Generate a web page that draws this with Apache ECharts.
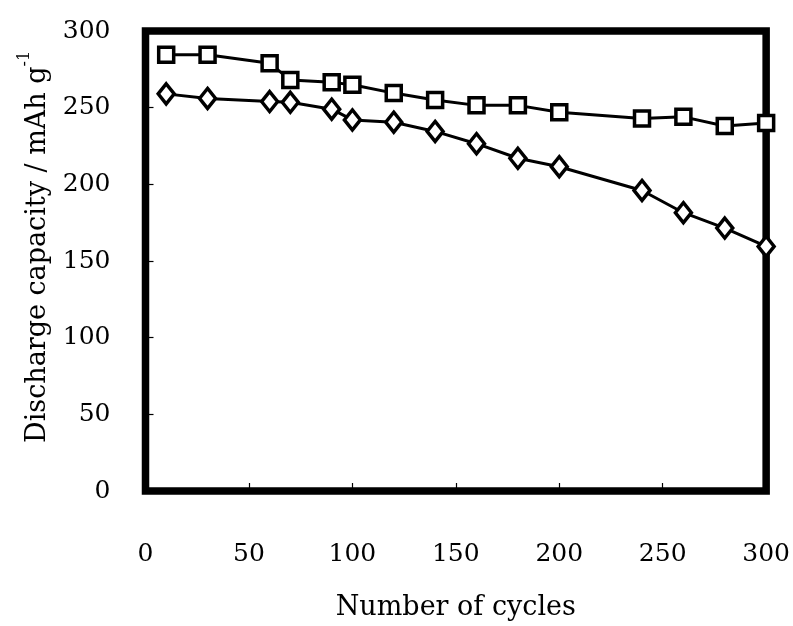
<!DOCTYPE html>
<html>
<head>
<meta charset="utf-8">
<script src="https://cdn.jsdelivr.net/npm/echarts@6/dist/echarts.min.js"></script>
<style>html,body{margin:0;padding:0;background:#fff}#c{width:793px;height:626px}</style>
</head>
<body>
<div id="c"></div>
<script>
var cycles = [10, 30, 60, 70, 90, 100, 120, 140, 160, 180, 200, 240, 260, 280, 300];
var squareCapacity = [284.5, 284.5, 279, 268, 266.5, 265, 259.5, 255, 251.5, 251.5, 247, 243, 244, 238, 240];
var diamondCapacity = [259, 256, 254, 253.5, 249, 242, 240.5, 234.5, 226.5, 217, 211.5, 196, 181.5, 171.5, 159.5];
var xTicks = [0, 50, 100, 150, 200, 250, 300];
var yTicks = [0, 50, 100, 150, 200, 250, 300];
var xTitle = 'Number of cycles';
var yTitle = 'Discharge capacity / mAh g';
var ySup = '-1';

function pairs(xs, ys) { return xs.map(function (x, i) { return [x, ys[i]]; }); }

var font = '"DejaVu Serif", "Liberation Serif", serif';
var chart = echarts.init(document.getElementById('c'), null, {renderer: 'canvas'});
chart.setOption({
  animation: false,
  backgroundColor: '#fff',
  grid: {left: 145.5, right: 24, top: 31, bottom: 131, show: true, borderColor: '#000', borderWidth: 7.5, backgroundColor: 'transparent'},
  xAxis: {
    type: 'value', min: xTicks[0], max: xTicks[xTicks.length - 1], interval: 50,
    axisLine: {show: false},
    axisTick: {show: true, inside: true, length: 8, lineStyle: {color: '#000', width: 1.2}},
    splitLine: {show: false},
    axisLabel: {color: '#000', fontFamily: font, fontSize: 25, margin: 51},
    name: xTitle, nameLocation: 'middle', nameGap: 103,
    nameTextStyle: {color: '#000', fontFamily: font, fontSize: 27, fontWeight: 'normal'}
  },
  yAxis: {
    type: 'value', min: yTicks[0], max: yTicks[yTicks.length - 1], interval: 50,
    axisLine: {show: false},
    axisTick: {show: true, inside: true, length: 8, lineStyle: {color: '#000', width: 1.2}},
    splitLine: {show: false},
    axisLabel: {color: '#000', fontFamily: font, fontSize: 25, margin: 35}
  },
  graphic: [{
    type: 'text', rotation: Math.PI / 2, originX: 0, originY: 0,
    x: 17, y: 443,
    style: {
      text: '{a|' + yTitle + '}{s|' + ySup + '}',
      rich: {
        a: {fontFamily: font, fontSize: 27, fill: '#000', lineHeight: 34, verticalAlign: 'bottom'},
        s: {fontFamily: font, fontSize: 16, fill: '#000', lineHeight: 34, verticalAlign: 'top'}
      }
    }
  }],
  series: [{
    type: 'line', data: pairs(cycles, squareCapacity), symbol: 'rect', symbolSize: 15,
    lineStyle: {color: '#000', width: 3}, itemStyle: {color: '#fff', borderColor: '#000', borderWidth: 3.5}, z: 3
  }, {
    type: 'line', data: pairs(cycles, diamondCapacity), symbol: 'diamond', symbolSize: [16, 20],
    lineStyle: {color: '#000', width: 3}, itemStyle: {color: '#fff', borderColor: '#000', borderWidth: 3.5}, z: 3
  }]
});
</script>
</body>
</html>
